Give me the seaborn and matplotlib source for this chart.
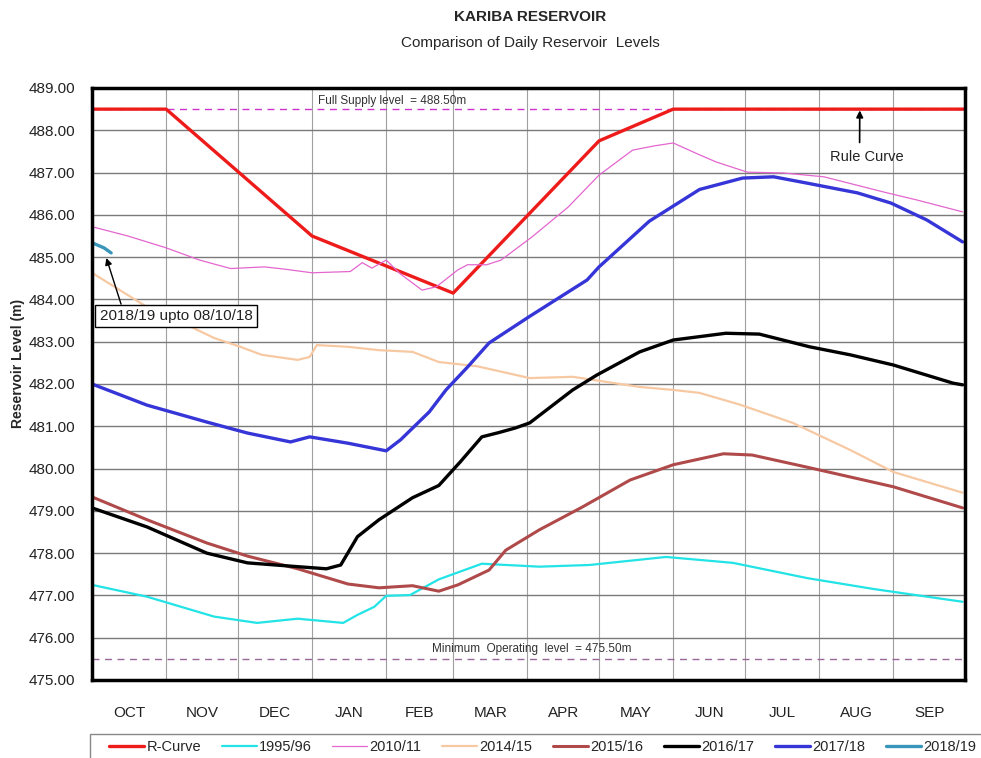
import numpy as np
import matplotlib
matplotlib.use('Agg')
import matplotlib.pyplot as plt
from matplotlib.patches import Rectangle
from matplotlib.ticker import FormatStrFormatter
import seaborn as sns

# month axis (hydrological year Oct - Sep)
months = ['OCT', 'NOV', 'DEC', 'JAN', 'FEB', 'MAR', 'APR', 'MAY', 'JUN', 'JUL', 'AUG', 'SEP']
month_len = [31, 30, 31, 31, 28, 31, 30, 31, 30, 31, 31, 30]

# rule curve
rc_day = [0, 31, 92, 151, 212, 243, 365]
rc_lvl = [488.5, 488.5, 485.5, 484.15, 487.75, 488.5, 488.5]

# 1995/96
y96_day = [0, 23, 51, 69, 86, 105, 111, 118, 123, 133, 145, 163, 187, 208, 240, 268, 299, 327, 364]
y96_lvl = [477.25, 476.97, 476.5, 476.35, 476.45, 476.35, 476.54, 476.73, 476.99, 477.01, 477.38,
           477.75, 477.68, 477.72, 477.91, 477.77, 477.41, 477.15, 476.85]

# 2010/11
y11_day = [0, 15, 31, 45, 58, 72, 80, 92, 108, 113, 117, 123, 129, 138, 144, 153, 157, 165, 171,
           184, 199, 212, 226, 235, 243, 254, 261, 274, 289, 306, 331, 345, 364]
y11_lvl = [485.72, 485.5, 485.22, 484.93, 484.73, 484.77, 484.72, 484.63, 484.66, 484.87, 484.74,
           484.93, 484.6, 484.22, 484.3, 484.7, 484.82, 484.82, 484.93, 485.48, 486.18, 486.94,
           487.53, 487.63, 487.7, 487.42, 487.25, 487.01, 486.99, 486.9, 486.54, 486.35, 486.07]

# 2014/15
y15_day = [0, 23, 37, 51, 62, 71, 86, 91, 94, 107, 120, 134, 145, 161, 183, 201, 229, 243, 254,
           271, 293, 317, 335, 364]
y15_lvl = [484.63, 483.82, 483.47, 483.09, 482.88, 482.69, 482.57, 482.64, 482.92, 482.88, 482.8,
           482.76, 482.52, 482.42, 482.14, 482.17, 481.93, 481.86, 481.79, 481.51, 481.08, 480.44,
           479.92, 479.43]

# 2015/16
y16_day = [0, 23, 48, 65, 86, 107, 120, 134, 145, 153, 166, 173, 187, 205, 225, 243, 264, 276,
           300, 335, 364]
y16_lvl = [479.33, 478.79, 478.24, 477.93, 477.63, 477.27, 477.18, 477.23, 477.1, 477.25, 477.6,
           478.07, 478.55, 479.09, 479.73, 480.09, 480.35, 480.32, 480.02, 479.57, 479.07]

# 2016/17
y17_day = [0, 23, 48, 65, 86, 98, 104, 111, 120, 134, 145, 154, 163, 170, 177, 183, 201, 211,
           229, 243, 265, 279, 300, 317, 335, 360, 364]
y17_lvl = [479.07, 478.62, 478.0, 477.77, 477.68, 477.63, 477.72, 478.39, 478.79, 479.31, 479.6,
           480.16, 480.75, 480.85, 480.96, 481.08, 481.86, 482.21, 482.76, 483.04, 483.2, 483.18,
           482.88, 482.69, 482.45, 482.02, 481.98]

# 2017/18
y18_day = [0, 23, 48, 65, 83, 91, 107, 123, 129, 141, 148, 157, 166, 183, 207, 212, 233, 240,
           254, 272, 285, 299, 320, 334, 349, 364]
y18_lvl = [482.0, 481.5, 481.1, 480.84, 480.63, 480.75, 480.6, 480.42, 480.68, 481.34, 481.86,
           482.4, 482.97, 483.6, 484.46, 484.77, 485.85, 486.1, 486.6, 486.87, 486.9, 486.75,
           486.52, 486.28, 485.88, 485.36]

# 2018/19 (up to 08/10/18)
y19_day = [0, 5, 8]
y19_lvl = [485.34, 485.22, 485.1]

series = [
    ('R-Curve', rc_day, rc_lvl, '#EE1B1B', 2.4),
    ('1995/96', y96_day, y96_lvl, '#22E3E6', 1.6),
    ('2010/11', y11_day, y11_lvl, '#E466CF', 0.9),
    ('2014/15', y15_day, y15_lvl, '#F7C9A3', 1.6),
    ('2015/16', y16_day, y16_lvl, '#B04A4A', 2.2),
    ('2016/17', y17_day, y17_lvl, '#000000', 2.4),
    ('2017/18', y18_day, y18_lvl, '#3535D8', 2.4),
    ('2018/19', y19_day, y19_lvl, '#3A95BB', 2.4),
]

sns.set_style('white')
plt.rcParams['font.family'] = ['Liberation Sans', 'DejaVu Sans']

fig = plt.figure(figsize=(9.81, 7.58), dpi=100)
ax = fig.add_axes([92 / 981, 1 - 680 / 758, (965 - 92) / 981, (680 - 88) / 758])

# reference levels
ax.axhline(488.5, color='#CC33CC', lw=1, ls=(0, (5, 4)), zorder=1.5)
ax.axhline(475.5, color='#996699', lw=1, ls=(0, (5, 4)), zorder=1.5)

for name, d, v, c, w in series:
    sns.lineplot(x=d, y=v, ax=ax, color=c, lw=w, label=name, sort=False, estimator=None)

handles, labels = ax.get_legend_handles_labels()
ax.get_legend().remove()

edges = np.cumsum([0] + month_len)
centers = edges[:-1] + np.array(month_len) / 2
ax.set_xlim(0, 365)
ax.set_ylim(475, 489)
ax.set_xticks(edges, minor=True)
ax.set_xticks(centers)
ax.set_xticklabels(months)
ax.set_yticks(np.arange(475, 490, 1))
ax.yaxis.set_major_formatter(FormatStrFormatter('%.2f'))
ax.tick_params(axis='x', which='both', length=0, pad=19, labelsize=11, colors='#222222')
ax.tick_params(axis='y', length=6, width=1, direction='out', pad=6, labelsize=11,
               colors='black', labelcolor='#222222')
ax.grid(axis='x', which='minor', color='#a0a0a0', lw=0.8)
ax.grid(axis='y', which='major', color='#7a7a7a', lw=1)
ax.set_axisbelow(True)
ax.set_xlabel('')
ax.set_ylabel('')
for s in ax.spines.values():
    s.set_color('black')
    s.set_linewidth(2.5)

ax.text(94.5, 488.56, 'Full Supply level  = 488.50m', fontsize=8.5, va='bottom', color='#333333')
ax.text(142, 475.58, 'Minimum  Operating  level  = 475.50m', fontsize=8.5, va='bottom', color='#333333')

ax.annotate('Rule Curve', xy=(321, 488.47), xytext=(324, 487.37), ha='center', va='center',
            fontsize=10.5, color='#222222',
            arrowprops=dict(arrowstyle='-|>', color='black', lw=1.2, shrinkA=3, shrinkB=0,
                            relpos=(0.4, 1.0), mutation_scale=10))
ax.annotate('2018/19 upto 08/10/18', xy=(6, 484.98), xytext=(3.2, 483.61), ha='left', va='center',
            fontsize=11, color='#222222',
            bbox=dict(boxstyle='square,pad=0.28', fc='white', ec='black', lw=1),
            arrowprops=dict(arrowstyle='-|>', color='black', lw=1, shrinkA=0, shrinkB=0,
                            relpos=(0.15, 1.0), mutation_scale=10))

fig.text(530 / 981, 1 - 17 / 758, 'KARIBA RESERVOIR', ha='center', va='center',
         fontsize=11, fontweight='bold')
fig.text(530 / 981, 1 - 43 / 758, 'Comparison of Daily Reservoir  Levels', ha='center',
         va='center', fontsize=11)
fig.text(18 / 981, 1 - 363 / 758, 'Reservoir Level (m)', rotation=90, ha='center', va='center',
         fontsize=10, fontweight='bold')

# legend frame runs off the right and bottom edges like the original
fig.add_artist(Rectangle((90 / 981, -0.05), 0.95, 1 - 734 / 758 + 0.05, transform=fig.transFigure,
                         fill=False, ec='#888888', lw=1))
fig.legend(handles, labels, ncol=8, loc='upper left', bbox_to_anchor=(104 / 981, 1 - 735 / 758),
           frameon=False, fontsize=10.5, handlelength=2.4, handletextpad=0.15,
           columnspacing=1.42, borderpad=0.35, borderaxespad=0)

fig.savefig('out.png', dpi=100)
